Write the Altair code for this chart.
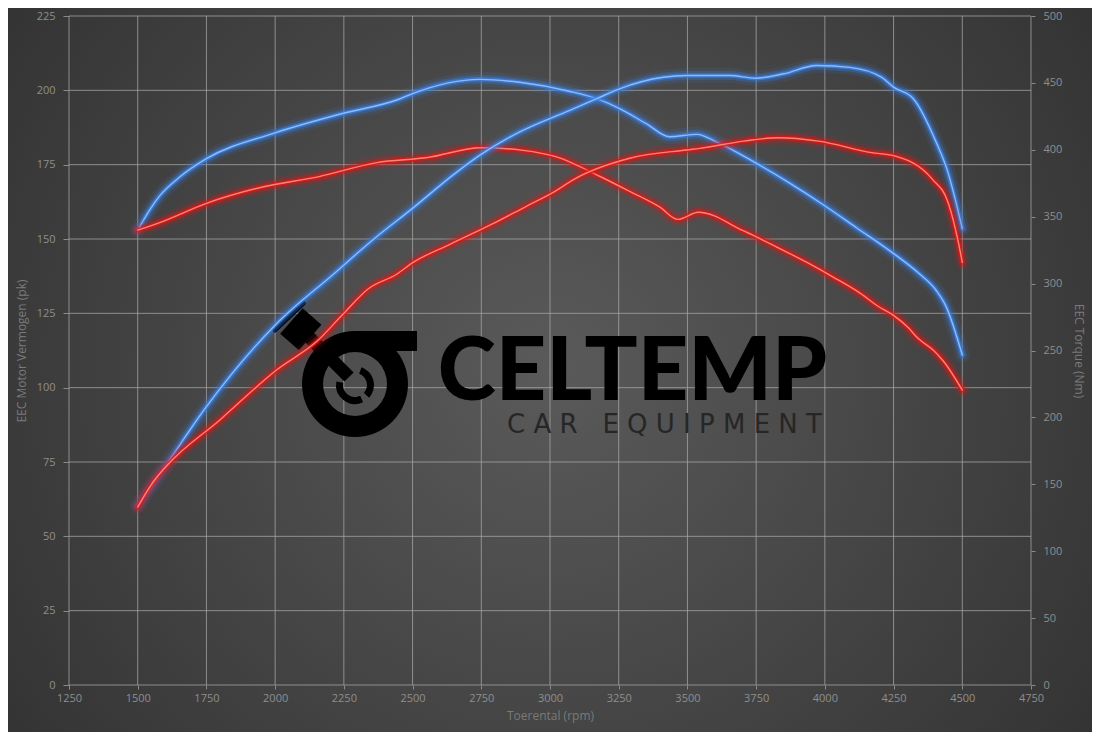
import altair as alt
import pandas as pd

# ---------------- data ----------------
x_ticks = [1250, 1500, 1750, 2000, 2250, 2500, 2750, 3000, 3250, 3500, 3750, 4000, 4250, 4500, 4750]
left_ticks = [0, 25, 50, 75, 100, 125, 150, 175, 200, 225]
right_ticks = [0, 50, 100, 150, 200, 250, 300, 350, 400, 450, 500]

rpm_power_stock = [1500, 1580, 1750, 1950, 2160, 2370, 2555, 2750, 2895, 3035, 3145, 3290, 3400,
                   3465, 3540, 3705, 3825, 3935, 4030, 4128, 4195, 4250, 4303, 4340, 4395, 4433, 4500]
power_stock = [153, 155.5, 162, 167.4, 171, 175.7, 177.4, 180.7, 179.9, 177.3, 172.7, 166, 160.7,
               156.6, 159, 152.7, 147.3, 142.1, 137.2, 131.8, 127.3, 124.3, 120.2, 116.5, 112.6, 108.7, 99.2]

rpm_power_tuned = [1500, 1545, 1580, 1655, 1750, 2000, 2245, 2450, 2500, 2745, 2890, 3070, 3170, 3255,
                   3350, 3435, 3535, 3605, 3750, 3872, 3993, 4115, 4237, 4345, 4406, 4440, 4500]
power_tuned = [153, 160, 164.5, 171, 177, 185.7, 192.2, 197, 198.9, 203.7, 202.7, 199.7, 197.2, 193.8,
               188.8, 184.4, 185.2, 182.7, 175.5, 168.8, 161.6, 153.8, 146, 138.2, 132.6, 127.5, 111]

rpm_torque_stock = [1500, 1550, 1605, 1800, 2005, 2156, 2248, 2338, 2442, 2502, 2636, 2787, 2914, 3018, 3084,
                    3290, 3497, 3545, 3705, 3832, 3977, 4170, 4250, 4390, 4449, 4486, 4500]
torque_stock = [133, 150, 163.7, 198.3, 235.4, 257.6, 277.4, 296, 307, 315.8, 329.4, 344.2, 357.8, 368.9, 377.6,
                393.7, 399.9, 401.1, 406.5, 409, 406.5, 397.9, 395.6, 378.3, 360.3, 330.6, 315.8]

rpm_torque_tuned = [1500, 1605, 1750, 2005, 2212, 2357, 2502, 2648, 2745, 2890, 3072, 3170, 3253,
                    3412, 3497, 3655, 3747, 3850, 3970, 4090, 4207, 4250, 4322, 4407, 4443, 4500]
torque_tuned = [134, 165, 208, 270, 307, 333, 356.6, 381.3, 396, 413.4, 429.5, 438.2, 445.6,
                454.2, 455.5, 455.5, 453.5, 456.8, 463, 461.6, 454.2, 446.8, 438.2, 404.8, 386.3, 341]

# ---------------- layout / style ----------------
W, H = 962, 669
PAD = {"left": 61, "top": 8, "right": 61, "bottom": 47}
FONT = "Open Sans"
LABEL_C = "#8e8e8e"
TITLE_C = "#7a7a7a"
GRID_C = "#a8a8a8"

x_scale = alt.Scale(domain=[1250, 4750], nice=False, zero=False)
yl_scale = alt.Scale(domain=[0, 225], nice=False)
yr_scale = alt.Scale(domain=[0, 500], nice=False)

common_axis = dict(grid=False, domain=False, tickColor="#8a8a8a", labelColor=LABEL_C, labelFontSize=11,
                   labelFont=FONT, titleFont=FONT, titleFontSize=12, titleColor=TITLE_C,
                   titleFontWeight="normal", labelFlush=False, labelOverlap=False, format="d", zindex=1)

x_axis = alt.Axis(values=x_ticks, title="Toerental (rpm)", tickSize=4, labelPadding=3, titlePadding=7,
                  **common_axis)
yl_axis = alt.Axis(values=left_ticks, title="EEC Motor Vermogen (pk)", orient="left", tickSize=6,
                   labelPadding=8, titlePadding=8, **common_axis)
yr_axis = alt.Axis(values=right_ticks, title="EEC Torque (Nm)", orient="right", tickSize=4,
                   labelPadding=8, titlePadding=10, **common_axis)

dummy = pd.DataFrame({"a": [0]})

background = alt.Chart(dummy).mark_rect(
    fill=alt.RadialGradient(
        gradient="radial", x1=0.5, y1=0.5, r1=0, x2=0.5, y2=0.5, r2=0.72,
        stops=[alt.GradientStop(color="#5a5a5a", offset=0),
               alt.GradientStop(color="#4a4a4a", offset=0.35),
               alt.GradientStop(color="#2c2c2c", offset=1)]
    )
).encode(x=alt.value(-PAD["left"]), x2=alt.value(W + PAD["right"]),
         y=alt.value(-PAD["top"]), y2=alt.value(H + PAD["bottom"]))

grid_x = alt.Chart(pd.DataFrame({"t": x_ticks})).mark_rule(color=GRID_C, strokeWidth=1, opacity=0.75).encode(
    x=alt.X("t:Q", scale=x_scale, axis=x_axis))
grid_y = alt.Chart(pd.DataFrame({"t": left_ticks})).mark_rule(color=GRID_C, strokeWidth=1, opacity=0.75).encode(
    y=alt.Y("t:Q", scale=yl_scale, axis=yl_axis))

# ---------------- logo (watermark), offsets relative to the plot origin ----------------
LOGO = "#000000"
DY = -6
ring = alt.Chart(dummy).mark_arc(radius=53, radius2=32, theta=0, theta2=6.2832, color=LOGO).encode(
    x=alt.value(286), y=alt.value(374 + DY))
bar = alt.Chart(dummy).mark_rect(color=LOGO).encode(
    x=alt.value(286), x2=alt.value(348), y=alt.value(321 + DY), y2=alt.value(341 + DY))
small_ring_a = alt.Chart(dummy).mark_arc(radius=19, radius2=12, theta=0.35, theta2=2.3, color=LOGO).encode(
    x=alt.value(286), y=alt.value(375 + DY))
small_ring_b = alt.Chart(dummy).mark_arc(radius=19, radius2=12, theta=2.7, theta2=4.9, color=LOGO).encode(
    x=alt.value(286), y=alt.value(375 + DY))
rod = alt.Chart(dummy).mark_rule(color=LOGO, strokeWidth=13, strokeCap="butt").encode(
    x=alt.value(238), y=alt.value(325 + DY), x2=alt.value(280), y2=alt.value(367 + DY))
head = alt.Chart(dummy).mark_rule(color=LOGO, strokeWidth=34, strokeCap="butt").encode(
    x=alt.value(222.4), y=alt.value(311 + DY), x2=alt.value(241.2), y2=alt.value(327.5 + DY))
head_ring = alt.Chart(dummy).mark_rule(color=LOGO, strokeWidth=5, strokeCap="round").encode(
    x=alt.value(206), y=alt.value(320 + DY), x2=alt.value(234.3), y2=alt.value(293.3 + DY))
logo_text = alt.Chart(dummy).mark_text(text="CELTEMP", font="Lato", fontWeight=900, fontSize=88,
                                       color=LOGO, align="center", baseline="alphabetic").encode(
    x=alt.value(563.5), y=alt.value(390 + DY))
logo_sub = alt.Chart(dummy).mark_text(text="C A R \u00a0 E Q U I P M E N T", font="DejaVu Sans", fontSize=26,
                                      color="#262626", align="center", baseline="alphabetic").encode(
    x=alt.value(595.5), y=alt.value(423 + DY))


def glow_lines(xs, ys, glow, core, scale, axis):
    df = pd.DataFrame({"rpm": xs, "v": ys})
    base = alt.Chart(df).encode(
        x=alt.X("rpm:Q", scale=x_scale, axis=x_axis),
        y=alt.Y("v:Q", scale=scale, axis=axis),
    )
    return [
        base.mark_line(interpolate="monotone", strokeWidth=15, opacity=0.12, color=glow, strokeCap="round"),
        base.mark_line(interpolate="monotone", strokeWidth=9, opacity=0.28, color=glow, strokeCap="round"),
        base.mark_line(interpolate="monotone", strokeWidth=4.5, opacity=0.75, color=glow, strokeCap="round"),
        base.mark_line(interpolate="monotone", strokeWidth=1.4, opacity=0.95, color=core, strokeCap="round"),
    ]


BLUE_G, BLUE_C = "#3a7fe0", "#8fc0ff"
RED_G, RED_C = "#e01515", "#ff8a7a"

left = alt.layer(
    background, grid_x, grid_y,
    ring, bar, small_ring_a, small_ring_b, rod, head, head_ring, logo_text, logo_sub,
    *glow_lines(rpm_power_tuned, power_tuned, BLUE_G, BLUE_C, yl_scale, yl_axis),
    *glow_lines(rpm_power_stock, power_stock, RED_G, RED_C, yl_scale, yl_axis),
)
right = alt.layer(
    *glow_lines(rpm_torque_tuned, torque_tuned, BLUE_G, BLUE_C, yr_scale, yr_axis),
    *glow_lines(rpm_torque_stock, torque_stock, RED_G, RED_C, yr_scale, yr_axis),
)

chart = alt.layer(left, right).resolve_scale(y="independent").properties(
    width=W, height=H, padding=PAD, autosize=alt.AutoSizeParams(type="none"), background="#2e2e2e"
).configure_view(stroke=None)

chart.save("out.html", embed_options={"renderer": "svg", "actions": False})
